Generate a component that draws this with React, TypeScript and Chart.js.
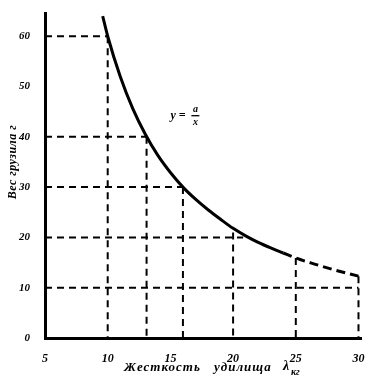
import React, { useEffect, useRef } from "react";
import { Chart, registerables } from "chart.js";

Chart.register(...registerables);

// Curve: weight of sinker (g) vs rod stiffness
const curveX = [9.6, 10, 11, 12, 13, 14, 15, 16, 17, 18, 19, 20, 21, 22, 23, 24];
const curveY = [64, 60, 52, 45.6, 40.5, 36.3, 32.9, 30, 27.6, 25.5, 23.6, 21.8, 20.3, 19.0, 17.9, 16.9];
const tailX = [24, 25, 26.5, 28, 30];
const tailY = [16.9, 15.9, 14.7, 13.6, 12.3];

// Dashed reading guides: [x1, y1, x2, y2]
const guides: number[][] = [
  [5, 60, 10, 60],
  [10, 60, 10, 0],
  [5, 40, 13.1, 40],
  [13.1, 40, 13.1, 0],
  [5, 30, 16, 30],
  [16, 30, 16, 0],
  [5, 20, 20.8, 20],
  [20, 21, 20, 0],
  [25, 15.9, 25, 0],
  [30, 12.3, 30, 0],
  [5, 10, 30, 10],
];

const xTicks = [5, 10, 15, 20, 25, 30];
const yTicks = [0, 10, 20, 30, 40, 50, 60];

const xTitle = "Жесткость удилища";
const xTitleSym = "λ";
const xTitleSub = "кг";
const yTitle = "Вес грузила г";
const formulaLeft = "у =";
const formulaNum = "a";
const formulaDen = "x";

const FONT = "'Liberation Serif', 'DejaVu Serif', serif";

export default function App() {
  const ref = useRef<HTMLCanvasElement>(null);
  useEffect(() => {
    document.body.style.margin = "0";
    const ctx = ref.current!;
    const textPlugin = {
      id: "texts",
      afterDraw(chart: any) {
        const c = chart.ctx as CanvasRenderingContext2D;
        c.save();
        c.fillStyle = "#000";
        c.strokeStyle = "#000";
        // y title
        c.save();
        c.translate(13, 162);
        c.rotate(-Math.PI / 2);
        c.font = `italic bold 12px ${FONT}`;
        c.textAlign = "center";
        c.textBaseline = "middle";
        (c as any).letterSpacing = "0.5px";
        c.fillText(yTitle, 0, 0);
        c.restore();
        // x title
        c.font = `italic bold 13px ${FONT}`;
        c.textBaseline = "middle";
        c.textAlign = "left";
        (c as any).letterSpacing = "1px";
        const words = xTitle.split(" ");
        c.fillText(words[0], 124, 368);
        c.fillText(words[1], 214, 368);
        (c as any).letterSpacing = "0px";
        c.font = `italic bold 14px ${FONT}`;
        c.fillText(xTitleSym, 283, 366);
        c.font = `italic bold 10px ${FONT}`;
        c.fillText(xTitleSub, 291, 372);
        // formula annotation у = a/x
        const xs = chart.scales.x;
        const ys = chart.scales.y;
        const ax = xs.getPixelForValue(15.0);
        const ay = ys.getPixelForValue(44.2);
        c.font = `italic bold 12px ${FONT}`;
        c.fillText(formulaLeft, ax, ay);
        const fx = ax + 21;
        c.font = `italic bold 10px ${FONT}`;
        c.textAlign = "center";
        c.fillText(formulaNum, fx + 4, ay - 6);
        c.fillText(formulaDen, fx + 4, ay + 7);
        c.lineWidth = 1.3;
        c.beginPath();
        c.moveTo(fx, ay);
        c.lineTo(fx + 8, ay);
        c.stroke();
        c.restore();
      },
    };
    const guideSets = guides.map((g) => ({
      data: [
        { x: g[0], y: g[1] },
        { x: g[2], y: g[3] },
      ],
      borderColor: "#000",
      borderWidth: 2,
      borderDash: [7, 5],
      pointRadius: 0,
      tension: 0,
    }));
    const chart = new Chart(ctx, {
      type: "line",
      data: {
        datasets: [
          {
            data: curveX.map((x, i) => ({ x, y: curveY[i] })),
            borderColor: "#000",
            borderWidth: 3,
            pointRadius: 0,
            cubicInterpolationMode: "monotone",
          },
          {
            data: tailX.map((x, i) => ({ x, y: tailY[i] })),
            borderColor: "#000",
            borderWidth: 3,
            borderDash: [9, 5],
            pointRadius: 0,
            cubicInterpolationMode: "monotone",
          },
          ...guideSets,
        ] as any,
      },
      options: {
        responsive: false,
        animation: false,
        devicePixelRatio: 1,
        layout: { padding: { top: 10, right: 10, left: 0, bottom: 0 } },
        plugins: { legend: { display: false }, tooltip: { enabled: false } },
        scales: {
          x: {
            type: "linear",
            min: 5,
            max: 30.2,
            afterFit: (s: any) => {
              s.height = 43;
            },
            afterBuildTicks: (s: any) => {
              s.ticks = xTicks.map((v) => ({ value: v }));
            },
            ticks: {
              color: "#000",
              padding: 6,
              font: { family: FONT, style: "italic", weight: "bold", size: 12 },
            },
            grid: { display: false },
            border: { display: true, color: "#000", width: 3 },
          },
          y: {
            type: "linear",
            min: 0,
            max: 64.5,
            afterFit: (s: any) => {
              s.width = 45;
            },
            afterBuildTicks: (s: any) => {
              s.ticks = yTicks.map((v) => ({ value: v }));
            },
            ticks: {
              color: "#000",
              padding: 7,
              font: { family: FONT, style: "italic", weight: "bold", size: 11 },
            },
            grid: { display: false },
            border: { display: true, color: "#000", width: 3 },
          },
        },
      },
      plugins: [textPlugin],
    });
    return () => chart.destroy();
  }, []);
  return (
    <div style={{ width: 371, height: 381, background: "#fff" }}>
      <canvas ref={ref} width={371} height={381} style={{ display: "block" }} />
    </div>
  );
}
